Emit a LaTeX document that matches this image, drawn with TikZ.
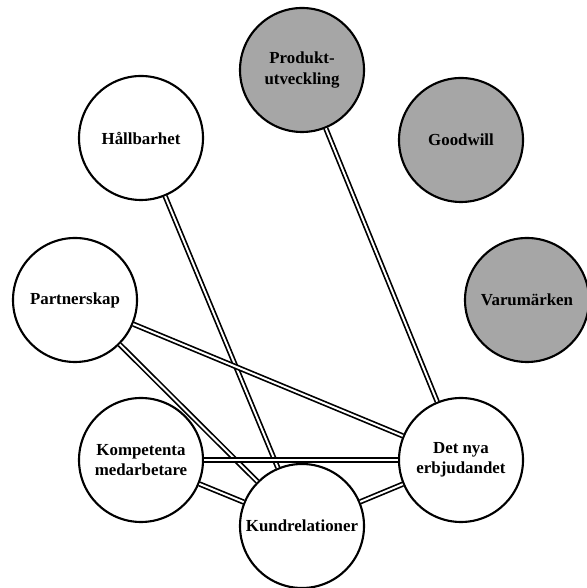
\documentclass[tikz,border=0pt]{standalone}
\usepackage{fontspec}
\setmainfont{Liberation Serif}
\definecolor{greyfill}{HTML}{A6A6A6}
\begin{document}
\begin{tikzpicture}[
	factor/.style={shape=circle,
				   draw=black,
				   line width=1.5pt,
				   fill=white,
				   minimum size=3.1cm,
				   inner sep=0pt,
				   align=center,
				   font=\fontsize{12}{14.5}\selectfont\bfseries},
	extern/.style={factor, fill=greyfill},
	link/.style={draw=black,
				 line width=1.2pt,
				 double=white,
				 double distance=1.4pt}]
	\useasboundingbox (0,0) rectangle (14.675,14.7);
	
	\draw (7.55, 12.95) node[extern](prod){Produkt-\\utveckling};
	\draw (3.525, 11.25) node[factor](hall){Hållbarhet};
	\draw (11.525, 11.2) node[extern](good){Goodwill};
	
	\draw (1.875, 7.2) node[factor](part){Partnerskap};
	\draw (13.175, 7.2) node[extern](varu){Varumärken};
	
	\draw (3.525, 3.2) node[factor](komp){Kompetenta\\medarbetare};
	\draw (11.525, 3.2) node[factor](nya){Det nya\\erbjudandet};
	\draw (7.55, 1.55) node[factor](kund){Kundrelationer};
	
	\draw [link](hall) -- (kund);
	\draw [link](prod) -- (nya);
	\draw [link](part) -- (nya);
	\draw [link](part) -- (kund);
	\draw [link](komp) -- (nya);
	\draw [link](komp) -- (kund);
	\draw [link](nya) -- (kund);
\end{tikzpicture}
\end{document}
